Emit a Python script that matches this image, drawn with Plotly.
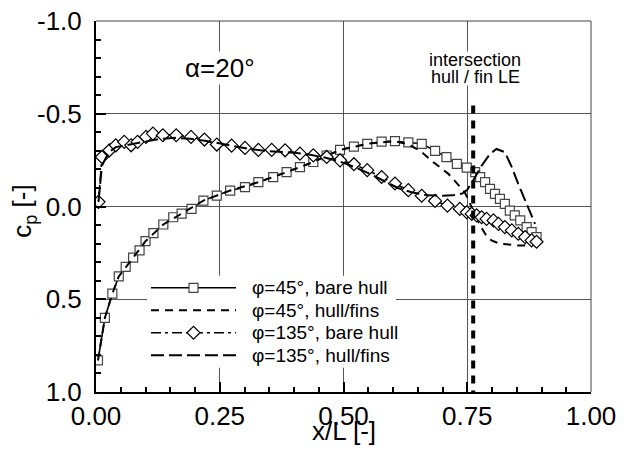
import plotly.graph_objects as go

# ---------------- data ----------------
x_45_bare = [0.004, 0.018, 0.033, 0.046, 0.060, 0.075, 0.088, 0.100, 0.116, 0.136, 0.156, 0.173, 0.193,
             0.217, 0.244, 0.271, 0.301, 0.328, 0.358, 0.385, 0.412, 0.439, 0.466, 0.493, 0.521, 0.548,
             0.577, 0.604, 0.631, 0.658, 0.685, 0.708, 0.729, 0.749, 0.766, 0.776, 0.786, 0.796, 0.806,
             0.816, 0.826, 0.836, 0.846, 0.857, 0.870, 0.880, 0.890]
cp_45_bare = [0.83, 0.60, 0.47, 0.377, 0.325, 0.276, 0.237, 0.187, 0.144, 0.097, 0.058, 0.038, 0.013,
              -0.032, -0.059, -0.086, -0.104, -0.131, -0.158, -0.185, -0.212, -0.24, -0.275, -0.305, -0.323, -0.338,
              -0.35, -0.352, -0.346, -0.338, -0.30, -0.266, -0.23, -0.21, -0.185, -0.158, -0.131, -0.095, -0.068,
              -0.041, -0.014, 0.022, 0.048, 0.075, 0.111, 0.138, 0.165]

x_45_fins = [0.004, 0.018, 0.033, 0.046, 0.075, 0.100, 0.136, 0.173, 0.217, 0.271, 0.328, 0.385, 0.439,
             0.493, 0.548, 0.604, 0.631, 0.655, 0.681, 0.712, 0.735, 0.745, 0.755, 0.766, 0.776, 0.786,
             0.799, 0.815, 0.830, 0.850, 0.865, 0.885]
cp_45_fins = [0.83, 0.60, 0.47, 0.377, 0.276, 0.187, 0.097, 0.038, -0.032, -0.086, -0.131, -0.185, -0.24,
              -0.305, -0.338, -0.352, -0.335, -0.30, -0.24, -0.176, -0.104, -0.077, -0.02, 0.05, 0.10, 0.147,
              0.183, 0.20, 0.204, 0.21, 0.21, 0.19]

x_135_bare = [0.005, 0.012, 0.027, 0.040, 0.057, 0.071, 0.084, 0.101, 0.115, 0.135, 0.162, 0.192, 0.219,
              0.244, 0.274, 0.301, 0.328, 0.355, 0.382, 0.412, 0.439, 0.466, 0.493, 0.521, 0.548, 0.577,
              0.604, 0.631, 0.658, 0.685, 0.710, 0.735, 0.749, 0.759, 0.769, 0.779, 0.789, 0.803, 0.813,
              0.826, 0.840, 0.853, 0.867, 0.880, 0.890]
cp_135_bare = [-0.025, -0.267, -0.303, -0.33, -0.348, -0.33, -0.348, -0.375, -0.393, -0.384, -0.384, -0.375, -0.361,
               -0.334, -0.328, -0.316, -0.305, -0.305, -0.303, -0.285, -0.276, -0.267, -0.249, -0.228, -0.196, -0.159,
               -0.124, -0.088, -0.058, -0.03, -0.005, 0.013, 0.031, 0.04, 0.048, 0.058, 0.067, 0.075, 0.094,
               0.111, 0.129, 0.147, 0.165, 0.183, 0.19]

x_135_fins = [0.005, 0.012, 0.025, 0.040, 0.060, 0.080, 0.100, 0.130, 0.160, 0.190, 0.220, 0.250, 0.280,
              0.310, 0.340, 0.370, 0.400, 0.430, 0.460, 0.490, 0.520, 0.550, 0.580, 0.610, 0.640, 0.670,
              0.700, 0.720, 0.740, 0.750, 0.762, 0.779, 0.796, 0.809, 0.826, 0.840, 0.853, 0.867, 0.880, 0.887]
cp_135_fins = [-0.025, -0.22, -0.29, -0.32, -0.33, -0.34, -0.35, -0.365, -0.37, -0.365, -0.355, -0.34, -0.325,
               -0.31, -0.30, -0.295, -0.29, -0.28, -0.265, -0.245, -0.215, -0.18, -0.14, -0.10, -0.075, -0.06,
               -0.058, -0.06, -0.07, -0.09, -0.14, -0.22, -0.284, -0.31, -0.293, -0.212, -0.122, -0.032, 0.058, 0.094]

series_names = ["φ=45°, bare hull", "φ=45°, hull/fins", "φ=135°, bare hull", "φ=135°, hull/fins"]

x_ticks = [0.0, 0.25, 0.5, 0.75, 1.0]
x_ticklabels = ["0.00", "0.25", "0.50", "0.75", "1.00"]
y_ticks = [-1.0, -0.5, 0.0, 0.5, 1.0]
y_ticklabels = ["-1.0", "-0.5", "0.0", "0.5", "1.0"]

fin_le_x = 0.762          # intersection hull / fin leading edge
fin_le_cp_top = -0.545

FONT = "Liberation Sans, Arial, Helvetica, sans-serif"

# ---------------- styles ----------------
styles = [
    dict(line=dict(color="black", width=1.6), symbol="square"),
    dict(line=dict(color="black", width=2, dash="8px,6px"), symbol=None),
    dict(line=dict(color="black", width=1.6, dash="10px,4px,3px,4px"), symbol="diamond"),
    dict(line=dict(color="black", width=2, dash="13px,5px"), symbol=None),
]
marker_sq = dict(symbol="square", size=9, color="white", line=dict(color="#444444", width=1.2))
marker_di = dict(symbol="diamond", size=10, color="white", line=dict(color="black", width=1.2))

fig = go.Figure()
fig.add_trace(go.Scatter(x=x_45_bare, y=cp_45_bare, name=series_names[0], mode="lines+markers",
                         line=styles[0]["line"], marker=marker_sq))
fig.add_trace(go.Scatter(x=x_45_fins, y=cp_45_fins, name=series_names[1], mode="lines",
                         line=styles[1]["line"]))
fig.add_trace(go.Scatter(x=x_135_bare, y=cp_135_bare, name=series_names[2], mode="lines+markers",
                         line=styles[2]["line"], marker=marker_di))
fig.add_trace(go.Scatter(x=x_135_fins, y=cp_135_fins, name=series_names[3], mode="lines",
                         line=styles[3]["line"]))

# thick dashed line marking the fin leading edge
fig.add_shape(type="line", xref="x", yref="y", x0=fin_le_x, x1=fin_le_x, y0=fin_le_cp_top, y1=1.0,
              line=dict(color="black", width=4, dash="8px,7px"), layer="above")
# thin frame on top and right
fig.add_shape(type="line", xref="paper", yref="paper", x0=0, x1=1, y0=1, y1=1,
              line=dict(color="#444444", width=1))
fig.add_shape(type="line", xref="paper", yref="paper", x0=1, x1=1, y0=0, y1=1,
              line=dict(color="#444444", width=1))

# ---------------- hand-drawn legend (paper coordinates) ----------------
PLOT_L, PLOT_T, PLOT_W, PLOT_H = 96.0, 21.0, 495.0, 371.3   # plot area in window pixels


def px(X):
    return (X - PLOT_L) / PLOT_W


def py(Y):
    return 1 - (Y - PLOT_T) / PLOT_H


leg_rows = [288, 310.5, 333, 355.5]
leg_line_x0, leg_line_x1, leg_text_x = 151, 236, 250
leg_mid = (leg_line_x0 + leg_line_x1) / 2

fig.add_shape(type="rect", xref="paper", yref="paper", x0=px(147), x1=px(396), y0=py(368), y1=py(276),
              fillcolor="white", line=dict(width=0), layer="above")
for i, (name, st) in enumerate(zip(series_names, styles)):
    yy = py(leg_rows[i])
    fig.add_shape(type="line", xref="paper", yref="paper", x0=px(leg_line_x0), x1=px(leg_line_x1),
                  y0=yy, y1=yy, line=st["line"], layer="above")
    if st["symbol"] == "square":
        h = 4.5
        fig.add_shape(type="rect", xref="paper", yref="paper",
                      x0=px(leg_mid - h), x1=px(leg_mid + h),
                      y0=py(leg_rows[i] + h), y1=py(leg_rows[i] - h),
                      fillcolor="white", line=dict(color="#444444", width=1.2), layer="above")
    elif st["symbol"] == "diamond":
        r = 6.5
        Y = leg_rows[i]
        path = (f"M {px(leg_mid - r)},{py(Y)} L {px(leg_mid)},{py(Y - r)} "
                f"L {px(leg_mid + r)},{py(Y)} L {px(leg_mid)},{py(Y + r)} Z")
        fig.add_shape(type="path", xref="paper", yref="paper", path=path,
                      fillcolor="white", line=dict(color="black", width=1.2), layer="above")
    fig.add_annotation(x=px(leg_text_x), y=yy, xref="paper", yref="paper", text=name,
                       xanchor="left", yanchor="middle", showarrow=False,
                       font=dict(family=FONT, size=19, color="black"))

# ---------------- texts ----------------
fig.add_annotation(x=0.25, y=-0.745, xref="x", yref="y", text="α=20°", showarrow=False,
                   font=dict(family=FONT, size=26, color="black"), bgcolor="white")
fig.add_annotation(x=0.766, y=py(60), xref="x", yref="paper", text="intersection", showarrow=False,
                   yanchor="middle", height=16, font=dict(family=FONT, size=18, color="black"),
                   bgcolor="white", borderpad=0)
fig.add_annotation(x=0.766, y=py(77), xref="x", yref="paper", text="hull / fin LE", showarrow=False,
                   yanchor="middle", height=16, font=dict(family=FONT, size=18, color="black"),
                   bgcolor="white", borderpad=0)
# axis titles
fig.add_annotation(x=0.5, y=py(431), xref="paper", yref="paper", text="x/L [-]", showarrow=False,
                   xanchor="center", yanchor="middle", font=dict(family=FONT, size=26, color="black"))
fig.add_annotation(x=px(24), y=py(212), xref="paper", yref="paper", text="c<sub>p</sub> [-]",
                   showarrow=False, textangle=-90, xanchor="center", yanchor="middle",
                   font=dict(family=FONT, size=26, color="black"))

fig.update_xaxes(
    range=[0, 1], tickvals=x_ticks, ticktext=x_ticklabels,
    ticks="inside", ticklen=10, tickwidth=2, tickcolor="black", ticklabeloverflow="allow",
    minor=dict(dtick=0.05, ticks="inside", ticklen=5, tickcolor="black", showgrid=False),
    showline=True, linecolor="black", linewidth=2,
    showgrid=True, gridcolor="#555555", gridwidth=1, zeroline=False,
    tickfont=dict(family=FONT, size=26, color="black"),
)
fig.update_yaxes(
    range=[1, -1], tickvals=y_ticks, ticktext=y_ticklabels,
    ticks="inside", ticklen=10, tickwidth=2, tickcolor="black", ticklabelstandoff=7,
    ticklabeloverflow="allow",
    minor=dict(dtick=0.1, ticks="inside", ticklen=5, tickcolor="black", showgrid=False),
    showline=True, linecolor="black", linewidth=2,
    showgrid=True, gridcolor="#555555", gridwidth=1, zeroline=False,
    tickfont=dict(family=FONT, size=26, color="black"),
)

# page has an 8px body margin, so the figure is 8px smaller than the window
fig.update_layout(
    width=621, height=444,
    margin=dict(l=88, r=38, t=13, b=60, autoexpand=False),
    paper_bgcolor="white", plot_bgcolor="white",
    font=dict(family=FONT, color="black"),
    showlegend=False,
)

fig.write_html("out.html")
